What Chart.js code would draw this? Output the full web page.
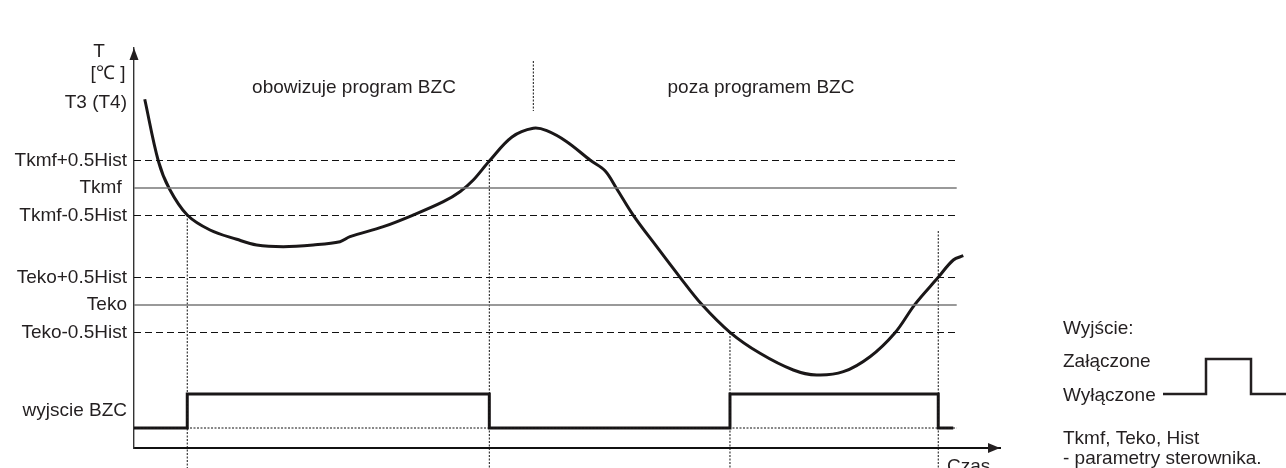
<!DOCTYPE html>
<html>
<head>
<meta charset="utf-8">
<script src="https://cdn.jsdelivr.net/npm/chart.js@4.4.0/dist/chart.umd.min.js"></script>
<style>
  html, body { margin: 0; padding: 0; background: #fff; }
  canvas { display: block; }
</style>
</head>
<body>
<canvas id="chart" width="1286" height="468"></canvas>
<script>
// y axis levels (temperature scale, arbitrary units)
const levelNames = ['T3 (T4)', 'Tkmf+0.5Hist', 'Tkmf ', 'Tkmf-0.5Hist', 'Teko+0.5Hist', 'Teko', 'Teko-0.5Hist', 'wyjscie BZC'];
const levelValues = [34.5, 28.75, 26.0, 23.25, 17.05, 14.3, 11.55, 3.7];

// reference lines drawn across the plot
const refNames = ['Tkmf+0.5Hist', 'Tkmf', 'Tkmf-0.5Hist', 'Teko+0.5Hist', 'Teko', 'Teko-0.5Hist'];
const refValues = [28.75, 26.0, 23.25, 17.05, 14.3, 11.55];
const refEnd = 95.0;

// temperature curve
const curveTime = [1.24, 2.81, 4.08, 6.15, 8.78, 11.86, 14.17, 17.24, 20.7, 23.79, 24.94, 28.79, 32.25, 35.72, 37.64, 39.18, 41.03, 43.65, 46.11, 47.66, 49.97, 52.66, 54.39, 55.74, 57.66, 60.36, 63.05, 65.55, 68.82, 72.29, 76.13, 78.83, 81.91, 84.99, 87.88, 90.18, 92.87, 94.61, 95.76];
const curveTemp = [34.87, 28.7, 25.93, 23.3, 21.8, 20.87, 20.3, 20.13, 20.3, 20.63, 21.13, 22.13, 23.3, 24.63, 25.63, 26.8, 28.7, 31.1, 31.97, 31.73, 30.63, 28.8, 27.73, 25.93, 23.27, 20.13, 17.07, 14.37, 11.57, 9.47, 7.8, 7.3, 7.63, 9.13, 11.53, 14.37, 17.07, 18.8, 19.23];

// BZC output (0 = off, 1 = on)
const stepTime = [0, 6.15, 41.03, 68.82, 92.87, 94.6];
const stepState = [0, 1, 0, 1, 0, 0];
const outputLow = 2.0;
const outputHigh = 5.4;

// switching moments (dotted verticals)
const switchTime = [6.15, 41.03, 68.82, 92.87];
const switchTop = [23.3, 28.7, 11.55, 21.7];
const axisFloor = -2.2;

// border between program regions
const programEnd = 46.11;
const programMarkTop = 38.7;
const programMarkBottom = 33.7;

const INK = '#231f20';
const FONT = '"Liberation Sans", Arial, sans-serif';

const datasets = [];

refValues.forEach((v, i) => {
  const dashed = refNames[i].includes('Hist');
  datasets.push({
    data: [{ x: 0, y: v }, { x: refEnd, y: v }],
    borderColor: dashed ? '#111' : '#777',
    borderWidth: dashed ? 1 : 1.6,
    borderDash: dashed ? [7, 4] : [],
    pointRadius: 0
  });
});

// low level dotted line
datasets.push({
  data: [{ x: 0, y: outputLow }, { x: refEnd, y: outputLow }],
  borderColor: '#111',
  borderWidth: 1,
  borderDash: [2, 1.5],
  pointRadius: 0
});

switchTime.forEach((t, i) => {
  datasets.push({
    data: [{ x: t, y: switchTop[i] }, { x: t, y: axisFloor }],
    borderColor: '#111',
    borderWidth: 1,
    borderDash: [2, 1.5],
    pointRadius: 0,
    clip: false
  });
});

datasets.push({
  data: [{ x: programEnd, y: programMarkTop }, { x: programEnd, y: programMarkBottom }],
  borderColor: '#111',
  borderWidth: 1,
  borderDash: [2, 1.5],
  pointRadius: 0,
  clip: false
});

datasets.push({
  data: stepTime.map((t, i) => ({ x: t, y: stepState[i] ? outputHigh : outputLow })),
  borderColor: '#1a1718',
  borderWidth: 3,
  stepped: true,
  pointRadius: 0
});

datasets.push({
  data: curveTime.map((t, i) => ({ x: t, y: curveTemp[i] })),
  borderColor: '#1a1718',
  borderWidth: 3,
  tension: 0.35,
  pointRadius: 0
});

const extras = {
  id: 'extras',
  afterDraw(chart) {
    const { ctx, chartArea: a, scales: { x } } = chart;
    ctx.save();
    ctx.fillStyle = INK;
    ctx.strokeStyle = INK;

    // arrow heads
    ctx.beginPath();
    ctx.moveTo(a.left, a.top);
    ctx.lineTo(a.left - 4.5, a.top + 12);
    ctx.lineTo(a.left + 4.5, a.top + 12);
    ctx.closePath();
    ctx.fill();
    ctx.beginPath();
    ctx.moveTo(a.right, a.bottom);
    ctx.lineTo(a.right - 12, a.bottom - 5);
    ctx.lineTo(a.right - 12, a.bottom + 5);
    ctx.closePath();
    ctx.fill();

    ctx.font = '19px ' + FONT;
    ctx.textBaseline = 'alphabetic';

    // axis titles
    ctx.textAlign = 'center';
    ctx.fillText('T', 99, 57);
    ctx.fillText('[\u2103 ]', 108, 79);
    ctx.textAlign = 'left';
    ctx.fillText('Czas', 947, 472);

    // region labels
    ctx.textAlign = 'center';
    ctx.fillText('obowizuje program BZC', x.getPixelForValue(25.4), 92.5);
    ctx.fillText('poza programem BZC', x.getPixelForValue(72.4), 92.5);

    // legend on the right
    ctx.textAlign = 'left';
    ctx.fillText('Wyjście:', 1063, 334);
    ctx.fillText('Załączone', 1063, 367);
    ctx.fillText('Wyłączone', 1063, 401);
    ctx.fillText('Tkmf, Teko, Hist', 1063, 444);
    ctx.fillText('- parametry sterownika.', 1063, 464);

    ctx.lineWidth = 2.5;
    ctx.beginPath();
    ctx.moveTo(1163, 394);
    ctx.lineTo(1206, 394);
    ctx.lineTo(1206, 359);
    ctx.lineTo(1251, 359);
    ctx.lineTo(1251, 394);
    ctx.lineTo(1286, 394);
    ctx.stroke();

    ctx.restore();
  }
};

new Chart(document.getElementById('chart').getContext('2d'), {
  type: 'line',
  data: { datasets },
  options: {
    responsive: false,
    animation: false,
    layout: { padding: { top: 48, right: 286, left: 0, bottom: 0 } },
    plugins: { legend: { display: false }, tooltip: { enabled: false } },
    scales: {
      x: {
        type: 'linear',
        min: 0,
        max: 100,
        grid: { display: false },
        border: { color: '#111', width: 2 },
        ticks: { display: false },
        afterFit(s) { s.height = 20; }
      },
      y: {
        type: 'linear',
        min: 0,
        max: 40,
        grid: { display: false, drawTicks: false },
        border: { color: '#333', width: 1.4 },
        afterBuildTicks(s) { s.ticks = levelValues.map(v => ({ value: v })); },
        ticks: {
          padding: 7,
          color: INK,
          font: { family: FONT, size: 19 },
          callback(v) {
            const i = levelValues.indexOf(v);
            return i >= 0 ? levelNames[i] : '';
          }
        },
        afterFit(s) { s.width = 134; }
      }
    }
  },
  plugins: [extras]
});
</script>
</body>
</html>
